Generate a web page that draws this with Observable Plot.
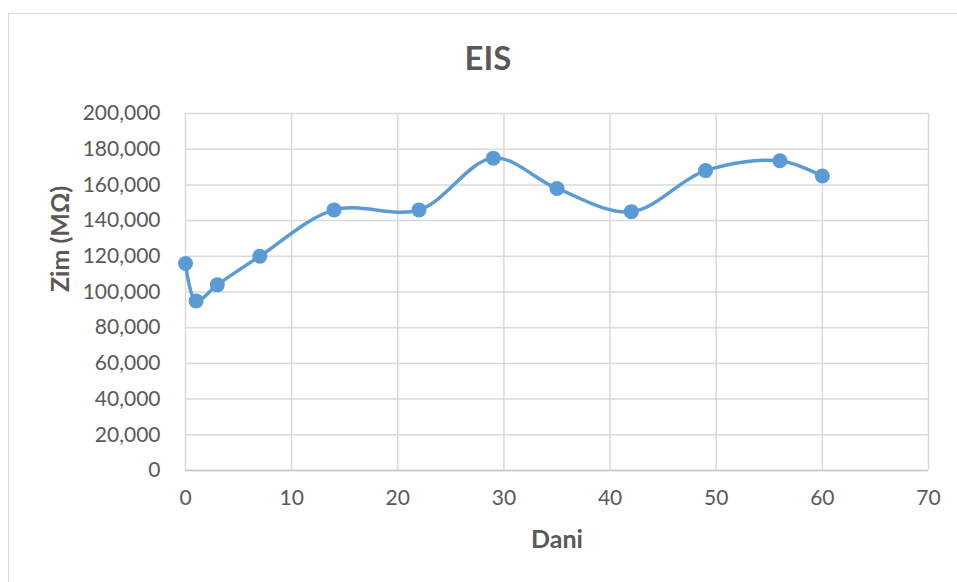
<!DOCTYPE html>
<html>
<head>
<meta charset="utf-8">
<script src="https://cdn.jsdelivr.net/npm/d3@7"></script>
<script src="https://cdn.jsdelivr.net/npm/@observablehq/plot@0.6"></script>
<style>
  html, body { margin: 0; padding: 0; background: #fff; }
  #wrap { position: relative; width: 957px; height: 582px; overflow: hidden; font-family: Lato, "Open Sans", sans-serif; }
  #frame { position: absolute; left: 8px; top: 13px; width: 960px; height: 600px; border: 1.5px solid #d9d9d9; box-sizing: border-box; }
  #title { position: absolute; left: 0; top: 38px; width: 976px; text-align: center; font-size: 33px; line-height: 1.2; font-weight: bold; color: #595959; margin: 0; }
  #chart { position: absolute; left: 0; top: 0; }
</style>
</head>
<body>
<div id="wrap">
  <div id="frame"></div>
  <h2 id="title">EIS</h2>
  <div id="chart"></div>
</div>
<script>
const days = [0, 1, 3, 7, 14, 22, 29, 35, 42, 49, 56, 60];
const zim = [116000, 95000, 104000, 120000, 146000, 146000, 175000, 158000, 145000, 168000, 173500, 165000];
const xTicks = [0, 10, 20, 30, 40, 50, 60, 70];
const yTicks = [0, 20000, 40000, 60000, 80000, 100000, 120000, 140000, 160000, 180000, 200000];
const xLabel = "Dani";
const yLabel = "Zim (MΩ)";

const data = days.map((d, i) => ({day: d, zim: zim[i]}));
const fmt = d3.format(",");

const plot = Plot.plot({
  width: 957,
  height: 582,
  marginLeft: 185,
  marginRight: 29,
  marginTop: 113,
  marginBottom: 112,
  style: { fontFamily: "Lato, 'Open Sans', sans-serif", fontSize: "21px", color: "#595959", background: "transparent" },
  x: { domain: [0, 70] },
  y: { domain: [0, 200000] },
  marks: [
    Plot.gridX(xTicks, { stroke: "#d9d9d9", strokeOpacity: 1, strokeWidth: 1.5 }),
    Plot.gridY(yTicks, { stroke: "#d9d9d9", strokeOpacity: 1, strokeWidth: 1.5 }),
    Plot.ruleY([0], { stroke: "#c8c8c8", strokeWidth: 1.5 }),
    Plot.axisX(xTicks, { tickSize: 0, tickPadding: 20, label: null, fontSize: 21, fill: "#595959" }),
    Plot.axisY(yTicks, { tickSize: 0, tickPadding: 25, label: null, tickFormat: fmt, fontSize: 21, fill: "#595959" }),
    Plot.text([xLabel], { frameAnchor: "bottom", dy: 77, fontSize: 25, fontWeight: "bold", fill: "#595959" }),
    Plot.text([yLabel], { frameAnchor: "left", dx: -125, rotate: -90, fontSize: 25, fontWeight: "bold", fill: "#595959" }),
    Plot.line(data, { x: "day", y: "zim", curve: "catmull-rom", stroke: "#5b9bd5", strokeWidth: 3.5 }),
    Plot.dot(data, { x: "day", y: "zim", r: 7.5, fill: "#5b9bd5", stroke: "none" })
  ]
});
document.getElementById("chart").appendChild(plot);
</script>
</body>
</html>
